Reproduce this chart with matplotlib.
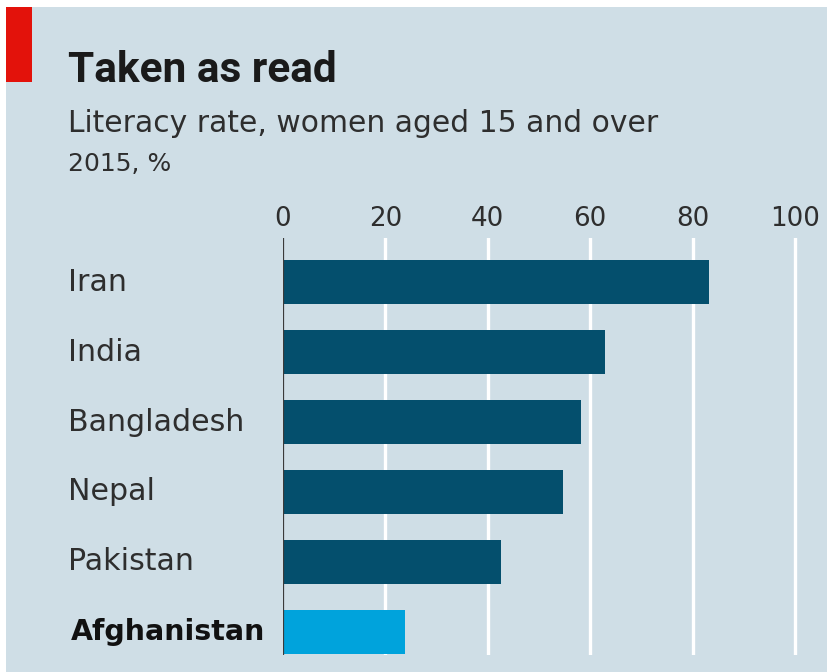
import matplotlib
matplotlib.use('Agg')
import matplotlib.pyplot as plt
from matplotlib.patches import Rectangle
from matplotlib.transforms import blended_transform_factory

plt.rcParams['font.family'] = ['DejaVu Sans']

countries = ['Iran', 'India', 'Bangladesh', 'Nepal', 'Pakistan', 'Afghanistan']
literacy = [83.2, 62.9, 58.2, 54.7, 42.6, 23.9]
highlight = 'Afghanistan'
ticks = [0, 20, 40, 60, 80, 100]

bg = '#cfdee6'
dark = '#044f6d'
light = '#00a3dc'
text_col = '#2e2e2e'

W, H = 828, 672
fig = plt.figure(figsize=(W / 100, H / 100), dpi=100)
fig.patch.set_facecolor('white')

def fy(px):
    return 1 - px / H

# panel background with a thin white margin on top and left
fig.add_artist(Rectangle((6 / W, 0), 1, fy(7), transform=fig.transFigure,
                         facecolor=bg, edgecolor='none', zorder=-5))
# red tag
fig.add_artist(Rectangle((6 / W, fy(82)), 26 / W, 75 / H, transform=fig.transFigure,
                         facecolor='#e3120b', edgecolor='none'))

fig.text(68 / W, fy(82), 'Taken as read', fontsize=30.5, fontweight='bold',
         family=['Roboto', 'DejaVu Sans'], color='#1a1a1a', va='baseline')
fig.text(68 / W, fy(132), 'Literacy rate, women aged 15 and over', fontsize=21.4,
         color=text_col, va='baseline')
fig.text(68 / W, fy(171), '2015, %', fontsize=18, color=text_col, va='baseline')

# axes: x=0 at 283px, 5.12px per unit; top 238px, bottom 655px
left = 283
xmax = (W - left) / 5.12
ax = fig.add_axes([left / W, fy(655), (W - left) / W, (655 - 238) / H])
ax.set_facecolor('none')
ax.set_xlim(0, xmax)
ax.set_ylim(5.33, -0.63)

for t in ticks[1:]:
    ax.axvline(t, color='white', lw=2.4, zorder=0)
ax.axvline(0, color='#3a3a3a', lw=1.6, zorder=3)

colors = [light if c == highlight else dark for c in countries]
ax.barh(range(len(countries)), literacy, height=0.63, color=colors, zorder=2)

for s in ax.spines.values():
    s.set_visible(False)
ax.set_yticks([])
ax.xaxis.tick_top()
ax.set_xticks(ticks)
ax.set_xticklabels([str(t) for t in ticks], fontsize=18.8, color=text_col)
ax.tick_params(axis='x', length=0, pad=4)

label_tr = blended_transform_factory(fig.transFigure, ax.transData)
for i, c in enumerate(countries):
    if c == highlight:
        ax.text(71 / W, i, c, transform=label_tr, fontsize=20.5, fontweight='bold',
                color='#111111', va='center', ha='left')
    else:
        ax.text(68 / W, i, c, transform=label_tr, fontsize=21.6,
                color=text_col, va='center', ha='left')

fig.savefig('out.png', dpi=100)
